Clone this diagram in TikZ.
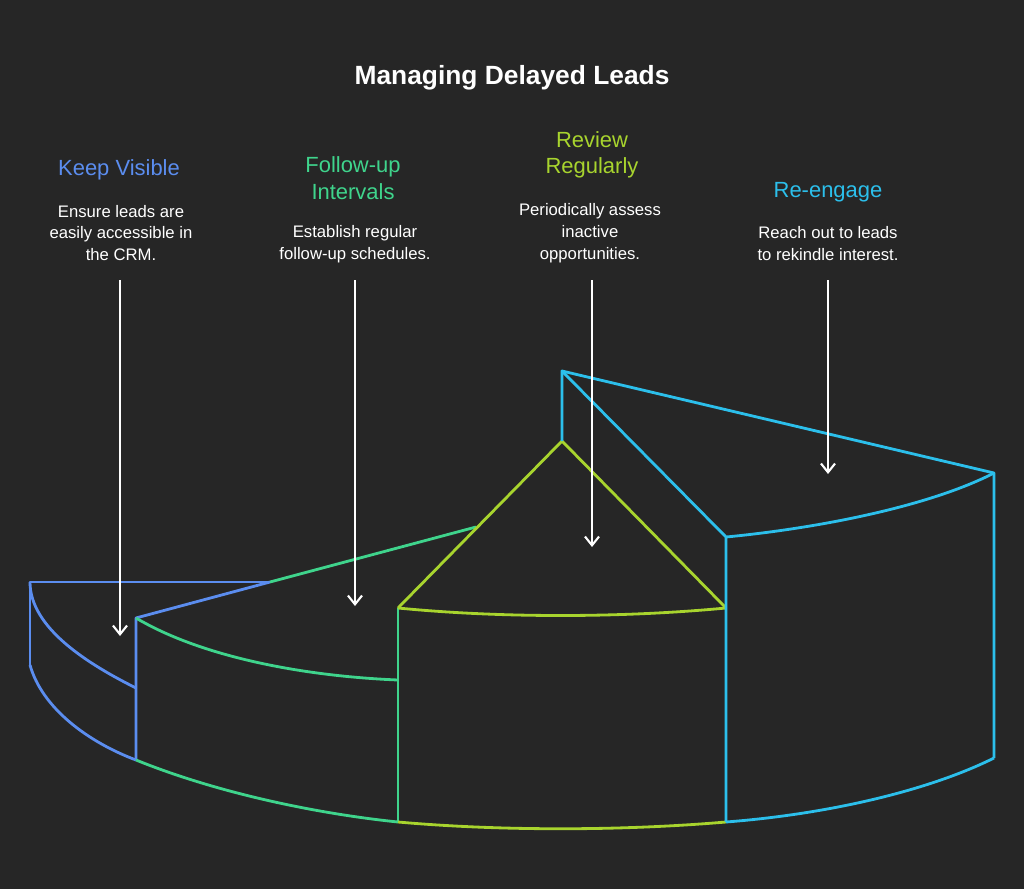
\documentclass[tikz,border=0pt]{standalone}
\usepackage{fontspec}
\setmainfont{Liberation Sans}
\usetikzlibrary{arrows.meta}
\definecolor{bg}{HTML}{262626}
\definecolor{cblue}{HTML}{5B8DEF}
\definecolor{cgreen}{HTML}{3FD48C}
\definecolor{clime}{HTML}{A8D42E}
\definecolor{ccyan}{HTML}{2CBFEB}
\tikzset{
  edge/.style={line width=1.6pt, line join=round},
  pointer/.style={white, line width=1.2pt, -{Straight Barb[length=5pt,width=8pt]}},
  head/.style={font=\fontsize{12.5}{15}\selectfont, align=center},
  desc/.style={white, font=\fontsize{9.5}{12.5}\selectfont, align=center}
}
\begin{document}
\begin{tikzpicture}[x=0.02cm, y=-0.02cm]
	% Background and frame
	\fill[bg] (0,0) rectangle (1024,889);
	\useasboundingbox (0,0) rectangle (1024,889);

	\node[white, font=\bfseries\fontsize{15}{18}\selectfont] (title) at (512,78) {Managing Delayed Leads};

	% Headings and descriptions
	\node[head, cblue] (h1) at (119,170) {Keep Visible};
	\node[desc] (d1) at (121,233) {Ensure leads are\\easily accessible in\\the CRM.};
	\node[head, cgreen] (h2) at (353,178) {Follow-up\\Intervals};
	\node[desc] (d2) at (355,244) {Establish regular\\follow-up schedules.};
	\node[head, clime] (h3) at (592,155) {Review\\Regularly};
	\node[desc] (d3) at (590,233) {Periodically assess\\inactive\\opportunities.};
	\node[head, ccyan] (h4) at (828,192) {Re-engage};
	\node[desc] (d4) at (828,244) {Reach out to leads\\to rekindle interest.};

	% Corners of the segments
	\coordinate (a1) at (30,582);
	\coordinate (a2) at (270,582);
	\coordinate (a3) at (136,618);
	\coordinate (a4) at (30,665);
	\coordinate (a5) at (136,688);
	\coordinate (a6) at (136,760);
	\coordinate (b1) at (476,527);
	\coordinate (b2) at (398,680);
	\coordinate (b3) at (398,608);
	\coordinate (b4) at (398,822);
	\coordinate (c1) at (562,441);
	\coordinate (c2) at (726,608);
	\coordinate (c3) at (726,822);
	\coordinate (e1) at (562,371);
	\coordinate (e2) at (994,473);
	\coordinate (e3) at (726,537);
	\coordinate (e4) at (994,758);

	% Keep Visible
	\draw[edge, cblue] (a2) -- (a1) -- (a4);
	\draw[edge, cblue] (a1) .. controls (30,628) and (88,664) .. (a5);
	\draw[edge, cblue] (a2) -- (a3) -- (a6);
	\draw[edge, cblue] (a4) .. controls (42,708) and (88,742) .. (a6);

	% Follow-up Intervals
	\draw[edge, cgreen] (a2) -- (b1);
	\draw[edge, cgreen] (a3) .. controls (200,656) and (300,676) .. (b2);
	\draw[edge, cgreen] (a6) .. controls (220,794) and (320,814) .. (b4);
	\draw[edge, cgreen] (b3) -- (b4);

	% Review Regularly
	\draw[edge, clime] (b3) -- (c1) -- (c2);
	\draw[edge, clime] (b3) .. controls (500,618) and (620,618) .. (c2);
	\draw[edge, clime] (b4) .. controls (500,831) and (620,831) .. (c3);

	% Re-engage
	\draw[edge, ccyan] (c1) -- (e1) -- (e2) -- (e4);
	\draw[edge, ccyan] (e1) -- (e3) -- (c3);
	\draw[edge, ccyan] (e3) .. controls (820,528) and (930,506) .. (e2);
	\draw[edge, ccyan] (c3) .. controls (830,814) and (930,790) .. (e4);

	% Pointers
	\coordinate (p1) at (120,636);
	\coordinate (p2) at (355,606);
	\coordinate (p3) at (592,547);
	\coordinate (p4) at (828,474);
	\draw[pointer] (120,280) -- (p1);
	\draw[pointer] (355,280) -- (p2);
	\draw[pointer] (592,280) -- (p3);
	\draw[pointer] (828,280) -- (p4);
\end{tikzpicture}
\end{document}
